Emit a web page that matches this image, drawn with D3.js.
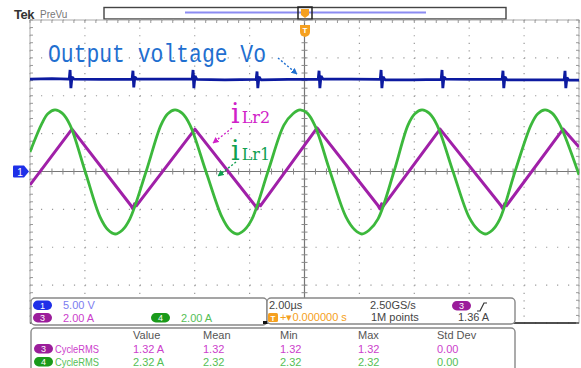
<!DOCTYPE html>
<html><head><meta charset="utf-8">
<script src="https://cdn.jsdelivr.net/npm/d3@7"></script>
<style>body{margin:0;background:#fff}svg{display:block}</style>
</head><body>
<svg id="c" width="581" height="368"></svg>
<script>
// ---- data ----
const timeDomain = [-10, 10];     // µs, 2.00 µs/div
const ampDomain = [-8, 8];        // A, 2.00 A/div (ch3, ch4)
const voltDomain = [-20, 20];     // V, 5.00 V/div (ch1)
const majorTime = [-10,-8,-6,-4,-2,0,2,4,6,8,10];
const majorAmp = [-8,-6,-4,-2,0,2,4,6,8];

// ch3: i_Lr2 (triangular), [t µs, A]
const iLr2 = [[-10,-0.71],[-8.47,2.24],[-6.33,-1.78],[-6.25,-1.98],[-6.19,-1.70],[-6.12,-1.80],
  [-3.99,2.24],[-1.81,-1.78],[-1.73,-1.98],[-1.67,-1.70],[-1.60,-1.80],
  [0.46,2.30],[2.67,-1.78],[2.75,-1.98],[2.81,-1.70],[2.88,-1.80],
  [4.94,2.24],[7.15,-1.78],[7.23,-1.98],[7.29,-1.70],[7.36,-1.80],
  [9.42,2.24],[10,1.30]];
// ch4: i_Lr1 (quasi-sinusoidal), [t µs, A]
const iLr1 = [[-10,1.03],[-9.56,2.55],[-9.35,3.05],[-9.09,3.25],[-8.83,3.08],[-8.54,2.45],[-7.99,0],
  [-7.45,-2.40],[-7.16,-3.08],[-6.90,-3.30],[-6.64,-3.10],[-6.36,-2.50],[-5.77,0],
  [-5.23,2.45],[-4.98,3.05],[-4.72,3.25],[-4.46,3.08],[-4.17,2.45],[-3.59,0],
  [-3.01,-2.40],[-2.72,-3.08],[-2.46,-3.30],[-2.20,-3.10],[-1.91,-2.50],[-1.33,0],
  [-0.75,2.45],[-0.42,3.05],[-0.16,3.25],[0.10,3.08],[0.38,2.42],[0.93,0],
  [1.51,-2.40],[1.83,-3.08],[2.09,-3.30],[2.35,-3.10],[2.68,-2.50],[3.26,0],
  [3.77,2.45],[4.02,3.05],[4.28,3.25],[4.54,3.08],[4.83,2.45],[5.41,0],
  [5.99,-2.40],[6.32,-3.08],[6.58,-3.30],[6.84,-3.10],[7.12,-2.50],[7.67,0],
  [8.25,2.45],[8.50,3.05],[8.76,3.25],[9.02,3.08],[9.31,2.45],[10,-0.18]];
// ch1: output voltage Vo, [t µs, V]
const vo = [[-10,12.2],[-9.2,12.25],
  [-8.57,12.2],[-8.54,13.4],[-8.51,11.0],[-8.47,12.5],[-8.40,12.2],[-7.4,12.15],
  [-6.28,12.2],[-6.25,13.3],[-6.22,11.1],[-6.18,12.5],[-6.11,12.2],[-5.2,12.2],
  [-4.09,12.2],[-4.06,13.4],[-4.03,11.0],[-3.99,12.6],[-3.92,12.15],[-2.9,12.1],
  [-1.76,12.15],[-1.73,13.2],[-1.70,11.0],[-1.66,12.5],[-1.59,12.1],[-0.6,12.15],
  [0.50,12.2],[0.53,13.3],[0.56,11.0],[0.60,12.6],[0.67,12.2],[1.7,12.2],
  [2.76,12.15],[2.79,13.4],[2.82,11.0],[2.86,12.5],[2.93,12.1],[3.9,12.1],
  [4.98,12.15],[5.01,13.4],[5.04,11.0],[5.08,12.5],[5.15,12.2],[6.1,12.15],
  [7.20,12.15],[7.23,13.3],[7.26,11.0],[7.30,12.5],[7.37,12.1],[8.4,12.1],
  [9.46,12.1],[9.49,13.3],[9.52,11.0],[9.56,12.4],[9.63,12.05],[10,12.05]];

const scaleLabels = [{ch:"1",text:"5.00 V"},{ch:"3",text:"2.00 A"},{ch:"4",text:"2.00 A"}];
const measHeaders = ["Value","Mean","Min","Max","Std Dev"];
const measRows = [
  {ch:"3", name:"CycleRMS", vals:["1.32 A","1.32","1.32","1.32","0.00"]},
  {ch:"4", name:"CycleRMS", vals:["2.32 A","2.32","2.32","2.32","0.00"]}];

// ---- drawing ----
const svg = d3.select("#c");
const L=30, R=579, T=20, B=323;
const x = d3.scaleLinear().domain(timeDomain).range([L,R]);
const yA = d3.scaleLinear().domain(ampDomain).range([B,T]);
const yV = d3.scaleLinear().domain(voltDomain).range([B,T]);
const C = {blue:"#0c1aa0", purple:"#a020a8", green:"#3cb83c"};
const font = "'Liberation Sans', Arial, sans-serif";

// header
svg.append("text").attr("x",14).attr("y",19).attr("font-family",font).attr("font-weight","bold")
  .attr("font-size",13).attr("fill","#333").attr("letter-spacing",-0.5).text("Tek");
svg.append("text").attr("x",40).attr("y",18).attr("font-family",font).attr("font-size",10)
  .attr("fill","#777").text("PreVu");
svg.append("rect").attr("x",104).attr("y",7.5).attr("width",402).attr("height",11.5)
  .attr("fill","#fff").attr("stroke","#444").attr("stroke-width",1.4);
svg.append("line").attr("x1",185).attr("x2",426).attr("y1",12.5).attr("y2",12.5)
  .attr("stroke","#8c8cf2").attr("stroke-width",2);
svg.append("rect").attr("x",298).attr("y",7).attr("width",14).attr("height",12.5)
  .attr("fill","none").attr("stroke","#222").attr("stroke-width",1.5);
svg.append("path").attr("d","M301,9 h8 v6 l-4,3 l-4,-3 z").attr("fill","#f5a020");

// graticule
const g = svg.append("g");
const minX = x(0.4)-x(0), minY = yA(0)-yA(0.4);
majorAmp.forEach(v=>{
  if (v===0) return;
  g.append("line").attr("x1",L).attr("x2",R).attr("y1",yA(v)).attr("y2",yA(v))
   .attr("stroke","#999").attr("stroke-width",1.2).attr("stroke-dasharray",`1.2 ${minX-1.2}`);
});
majorTime.forEach(v=>{
  if (v===0) return;
  g.append("line").attr("x1",x(v)).attr("x2",x(v)).attr("y1",T).attr("y2",B)
   .attr("stroke","#999").attr("stroke-width",1.2).attr("stroke-dasharray",`1.2 ${minY-1.2}`);
});
g.append("rect").attr("x",L).attr("y",T).attr("width",R-L).attr("height",B-T)
  .attr("fill","none").attr("stroke","#aaa").attr("stroke-width",1);
g.append("line").attr("x1",L).attr("x2",R).attr("y1",B).attr("y2",B).attr("stroke","#222").attr("stroke-width",1.3);
g.append("line").attr("x1",L).attr("x2",R).attr("y1",yA(0)).attr("y2",yA(0)).attr("stroke","#777").attr("stroke-width",1.2);
g.append("line").attr("x1",x(0)).attr("x2",x(0)).attr("y1",T).attr("y2",B).attr("stroke","#777").attr("stroke-width",1.2);
const minorT = d3.range(-10, 10.001, 0.4), minorA = d3.range(-8, 8.001, 0.4);
minorT.forEach(v=>{
  g.append("line").attr("x1",x(v)).attr("x2",x(v)).attr("y1",yA(0)-3).attr("y2",yA(0)+3).attr("stroke","#888");
  g.append("line").attr("x1",x(v)).attr("x2",x(v)).attr("y1",T).attr("y2",T+3).attr("stroke","#999");
});
minorA.forEach(v=>{
  g.append("line").attr("x1",x(0)-3).attr("x2",x(0)+3).attr("y1",yA(v)).attr("y2",yA(v)).attr("stroke","#888");
  g.append("line").attr("x1",L).attr("x2",L+3).attr("y1",yA(v)).attr("y2",yA(v)).attr("stroke","#999");
  g.append("line").attr("x1",R-3).attr("x2",R).attr("y1",yA(v)).attr("y2",yA(v)).attr("stroke","#999");
});

// traces
svg.append("clipPath").attr("id","clip").append("rect").attr("x",L).attr("y",T).attr("width",R-L).attr("height",B-T);
const tr = svg.append("g").attr("clip-path","url(#clip)");
tr.append("path").datum(vo).attr("fill","none").attr("stroke",C.blue).attr("stroke-width",2.8)
  .attr("stroke-linejoin","bevel")
  .attr("d", d3.line().x(d=>x(d[0])).y(d=>yV(d[1])));
tr.append("path").datum(iLr2).attr("fill","none").attr("stroke",C.purple).attr("stroke-width",3)
  .attr("stroke-linejoin","round")
  .attr("d", d3.line().x(d=>x(d[0])).y(d=>yA(d[1])));
tr.append("path").datum(iLr1).attr("fill","none").attr("stroke",C.green).attr("stroke-width",2.8)
  .attr("d", d3.line().curve(d3.curveCatmullRom.alpha(0.5)).x(d=>x(d[0])).y(d=>yA(d[1])));

// trigger marker (top) and ch1 ground marker
svg.append("path").attr("d","M300,25 h10 v7 q0,4 -5,5 q-5,-1 -5,-5 z").attr("fill","#f5a020");
svg.append("text").attr("x",305).attr("y",33).attr("text-anchor","middle").attr("font-family",font)
  .attr("font-size",8).attr("font-weight","bold").attr("fill","#fff").text("T");
svg.append("path").attr("d",`M14,${yA(0)-6} h10 l5,6 l-5,6 h-10 q-1,0 -1,-1 v-10 q0,-1 1,-1 z`).attr("fill","#1e30e8");
svg.append("text").attr("x",20).attr("y",yA(0)+4).attr("text-anchor","middle").attr("font-family",font)
  .attr("font-size",10).attr("fill","#fff").text("1");

// annotations
const ann = svg.append("g");
ann.append("text").attr("x",48).attr("y",62).attr("font-family","'Liberation Mono', monospace")
  .attr("font-size",25).attr("fill","#1f6fd0").attr("textLength",218).attr("lengthAdjust","spacingAndGlyphs")
  .text("Output voltage Vo");
const defs = svg.append("defs");
function arrow(id,color){
  defs.append("marker").attr("id",id).attr("viewBox","0 0 10 10").attr("refX",9).attr("refY",5)
   .attr("markerWidth",4.5).attr("markerHeight",4.5).attr("orient","auto")
   .append("path").attr("d","M0,0 L10,5 L0,10 z").attr("fill",color);
}
arrow("ab","#1f6fd0"); arrow("am","#d020c8"); arrow("ag","#10a050");
ann.append("line").attr("x1",278).attr("y1",58).attr("x2",297).attr("y2",74).attr("stroke","#1f6fd0")
  .attr("stroke-width",1.4).attr("stroke-dasharray","2 2").attr("marker-end","url(#ab)");
ann.append("line").attr("x1",232).attr("y1",128).attr("x2",213).attr("y2",143).attr("stroke","#d020c8")
  .attr("stroke-width",1.4).attr("stroke-dasharray","2 2").attr("marker-end","url(#am)");
ann.append("line").attr("x1",236).attr("y1",162).attr("x2",218).attr("y2",176).attr("stroke","#10a050")
  .attr("stroke-width",1.4).attr("stroke-dasharray","2 2").attr("marker-end","url(#ag)");
function iLabel(xp,yp,sub,color){
  const t = ann.append("text").attr("x",xp).attr("y",yp).attr("font-family","'DejaVu Serif', serif").attr("fill",color);
  t.append("tspan").attr("font-size",27).text("i");
  t.append("tspan").attr("font-size",16).attr("dx",2).text(sub);
}
iLabel(231,123,"Lr2","#d020c8");
iLabel(231,160,"Lr1","#10a050");

// info panels
const P = svg.append("g").attr("font-family",font).attr("font-size",11);
P.append("rect").attr("x",31).attr("y",298).attr("width",236).attr("height",27).attr("rx",4)
  .attr("fill","#fff").attr("stroke","#888").attr("stroke-width",1.4);
P.append("rect").attr("x",267).attr("y",298).attr("width",248).attr("height",26).attr("rx",4)
  .attr("fill","#fff").attr("stroke","#888").attr("stroke-width",1.4);
P.append("rect").attr("x",31).attr("y",328).attr("width",484).attr("height",50).attr("rx",4)
  .attr("fill","#fff").attr("stroke","#888").attr("stroke-width",1.4);
P.append("rect").attr("x",263).attr("y",321).attr("width",4).attr("height",3).attr("fill","#111");
const pill = {"1":"#2030e8","3":"#9b1d9b","4":"#1a9a1a"};
const txtCol = {"1":"#7c7cf0","3":"#cc40cc","4":"#55c055"};
function badge(xp,yp,ch){
  P.append("rect").attr("x",xp).attr("y",yp).attr("width",19).attr("height",9.5).attr("rx",4.75).attr("fill",pill[ch]);
  P.append("text").attr("x",xp+9.5).attr("y",yp+8.3).attr("text-anchor","middle").attr("font-size",9)
   .attr("fill","#fff").text(ch);
}
const slPos = [[33,300.5,63,309],[33,313,63,322],[151,313,181,322]];
scaleLabels.forEach((s,i)=>{
  const p = slPos[i]; badge(p[0],p[1],s.ch);
  P.append("text").attr("x",p[2]).attr("y",p[3]).attr("fill",txtCol[s.ch]).text(s.text);
});
P.append("text").attr("x",269).attr("y",309).attr("fill","#444").text("2.00µs");
P.append("text").attr("x",370).attr("y",309).attr("fill","#444").text("2.50GS/s");
badge(452,301,"3");
P.append("path").attr("d","M477,311 h3 l4,-8 h3").attr("fill","none").attr("stroke","#333").attr("stroke-width",1.2);
P.append("rect").attr("x",268).attr("y",313).attr("width",10).attr("height",9).attr("rx",1.5).attr("fill","#f5a020");
P.append("text").attr("x",273).attr("y",321).attr("text-anchor","middle").attr("font-size",8).attr("font-weight","bold").attr("fill","#fff").text("T");
P.append("text").attr("x",280).attr("y",321).attr("fill","#f5a020").text("+▾0.000000 s");
P.append("text").attr("x",371).attr("y",321).attr("fill","#444").text("1M points");
P.append("text").attr("x",458).attr("y",321).attr("fill","#444").text("1.36 A");
const colX = [133,203,280,358,437];
measHeaders.forEach((h,i)=>P.append("text").attr("x",colX[i]).attr("y",339).attr("fill","#555").text(h));
measRows.forEach((r,j)=>{
  const yb = 353 + j*13;
  badge(34, yb-9, r.ch);
  P.append("text").attr("x",55).attr("y",yb).attr("fill",txtCol[r.ch]).attr("textLength",44)
   .attr("lengthAdjust","spacingAndGlyphs").text(r.name);
  r.vals.forEach((v,i)=>P.append("text").attr("x",colX[i]).attr("y",yb).attr("fill",txtCol[r.ch]).text(v));
});
</script>
</body></html>
